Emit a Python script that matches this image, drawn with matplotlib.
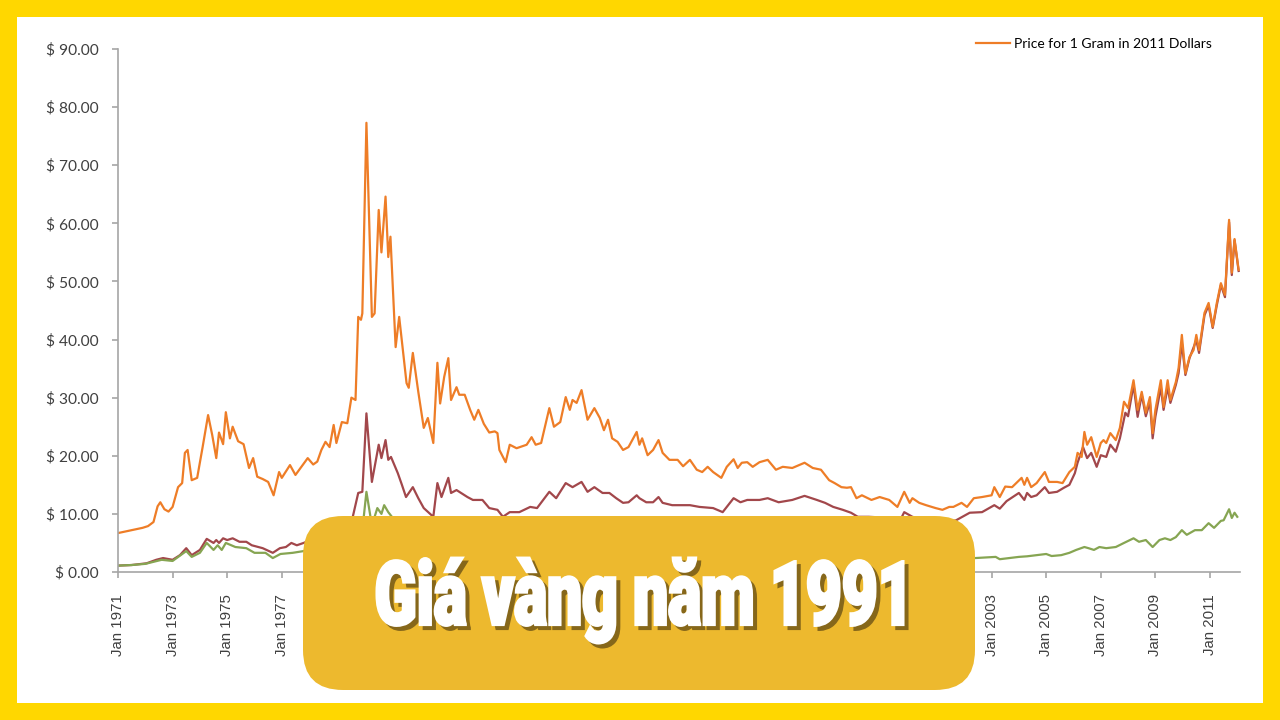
import matplotlib
matplotlib.use('Agg')  # noqa
import matplotlib.pyplot as plt
from matplotlib.ticker import FuncFormatter
from matplotlib.textpath import TextPath
from matplotlib.patches import PathPatch, FancyBboxPatch, Rectangle
from matplotlib.font_manager import FontProperties
from matplotlib.transforms import Affine2D

# gold price per gram (decimal years)
real_years = [
    1971.0, 1971.3, 1971.6, 1971.9, 1972.1, 1972.3, 1972.45, 1972.55, 1972.7, 1972.85,
    1973.0, 1973.2, 1973.35, 1973.45, 1973.55, 1973.7, 1973.9, 1974.1, 1974.3, 1974.45,
    1974.6, 1974.7, 1974.85, 1974.95, 1975.1, 1975.2, 1975.4, 1975.6, 1975.8, 1975.95,
    1976.1, 1976.3, 1976.5, 1976.7, 1976.9, 1977.0, 1977.3, 1977.5, 1977.7, 1977.95,
    1978.15, 1978.3, 1978.45, 1978.6, 1978.75, 1978.9, 1979.0, 1979.2, 1979.4, 1979.55,
    1979.7, 1979.8, 1979.9, 1979.95, 1980.1, 1980.3, 1980.4, 1980.55, 1980.65, 1980.8,
    1980.9, 1980.98, 1981.17, 1981.3, 1981.57, 1981.65, 1981.8, 1982.0, 1982.2, 1982.35,
    1982.55, 1982.7, 1982.8, 1982.95, 1983.1, 1983.2, 1983.4, 1983.5, 1983.7, 1983.9,
    1984.05, 1984.2, 1984.4, 1984.6, 1984.8, 1984.9, 1984.97, 1985.2, 1985.35, 1985.6,
    1985.97, 1986.15, 1986.3, 1986.5, 1986.8, 1986.97, 1987.2, 1987.4, 1987.55, 1987.65,
    1987.8, 1987.98, 1988.2, 1988.45, 1988.65, 1988.8, 1988.95, 1989.1, 1989.3, 1989.5,
    1989.7, 1990.0, 1990.1, 1990.2, 1990.4, 1990.6, 1990.8, 1990.95, 1991.2, 1991.5,
    1991.7, 1991.95, 1992.2, 1992.4, 1992.6, 1992.8, 1993.1, 1993.3, 1993.55, 1993.7,
    1993.85, 1994.05, 1994.25, 1994.5, 1994.8, 1995.1, 1995.35, 1995.7, 1996.15, 1996.45,
    1996.75, 1997.05, 1997.25, 1997.5, 1997.7, 1997.85, 1998.05, 1998.25, 1998.6, 1998.9,
    1999.25, 1999.55, 1999.8, 2000.0, 2000.1, 2000.35, 2000.6, 2000.95, 2001.2, 2001.45,
    2001.6, 2001.9, 2002.1, 2002.35, 2002.65, 2003.0, 2003.1, 2003.3, 2003.5, 2003.75,
    2004.1, 2004.2, 2004.3, 2004.45, 2004.65, 2004.95, 2005.1, 2005.4, 2005.6, 2005.85,
    2006.05, 2006.15, 2006.3, 2006.4, 2006.5, 2006.65, 2006.85, 2007.0, 2007.1, 2007.2,
    2007.35, 2007.55, 2007.7, 2007.85, 2008.0, 2008.2, 2008.35, 2008.5, 2008.65, 2008.8,
    2008.9, 2009.0, 2009.2, 2009.3, 2009.45, 2009.55, 2009.75, 2009.85, 2009.97, 2010.1,
    2010.25, 2010.4, 2010.5, 2010.6, 2010.8, 2010.95, 2011.1, 2011.25, 2011.4, 2011.55,
    2011.7, 2011.8, 2011.9, 2012.05]
real_price = [
    6.7, 7.0, 7.3, 7.6, 7.9, 8.6, 11.3, 12.0, 10.8, 10.4,
    11.2, 14.6, 15.3, 20.5, 21.0, 15.8, 16.2, 21.5, 27.0, 23.6,
    19.6, 24.0, 22.0, 27.5, 23.0, 25.0, 22.5, 22.0, 17.9, 19.6,
    16.4, 16.0, 15.5, 13.2, 17.2, 16.2, 18.4, 16.7, 18.0, 19.6,
    18.5, 19.0, 21.0, 22.4, 21.5, 25.3, 22.2, 25.8, 25.6, 30.0,
    29.6, 43.9, 43.4, 44.5, 77.3, 43.9, 44.5, 62.3, 55.0, 64.6,
    54.2, 57.7, 38.7, 43.9, 32.5, 31.7, 37.7, 31.0, 24.8, 26.5,
    22.2, 36.0, 29.0, 33.6, 36.8, 29.6, 31.8, 30.5, 30.5, 27.9,
    26.2, 27.9, 25.5, 24.0, 24.2, 23.9, 21.0, 18.9, 21.9, 21.3,
    21.9, 23.2, 21.9, 22.2, 28.2, 25.0, 25.8, 30.1, 27.9, 29.6,
    29.1, 31.3, 26.2, 28.2, 26.5, 24.4, 26.2, 23.0, 22.4, 21.0,
    21.5, 24.1, 21.9, 23.0, 20.1, 21.0, 22.7, 20.5, 19.3, 19.3,
    18.2, 19.3, 17.6, 17.2, 18.1, 17.2, 16.2, 18.1, 19.4, 17.9,
    18.8, 18.9, 18.1, 18.9, 19.3, 17.6, 18.1, 17.9, 18.8, 17.9,
    17.6, 15.8, 15.3, 14.6, 14.5, 14.6, 12.7, 13.2, 12.4, 12.9,
    12.4, 11.2, 13.8, 11.9, 12.7, 11.9, 11.5, 11.0, 10.7, 11.2,
    11.2, 11.9, 11.2, 12.7, 12.9, 13.2, 14.6, 12.9, 14.7, 14.6,
    16.2, 15.0, 16.2, 14.6, 15.3, 17.2, 15.5, 15.5, 15.3, 17.2,
    18.1, 20.5, 19.8, 24.1, 21.9, 23.2, 19.8, 22.2, 22.7, 22.2,
    23.9, 22.7, 24.8, 29.3, 28.2, 33.0, 27.9, 31.0, 27.4, 30.1,
    23.9, 27.9, 33.0, 28.4, 33.0, 29.6, 32.7, 35.1, 40.8, 34.2,
    37.0, 38.2, 40.8, 38.2, 44.6, 46.3, 42.2, 46.3, 49.7, 47.7,
    60.6, 51.5, 57.3, 52.0]

nominal_years = [
    1971.0, 1971.5, 1972.05, 1972.4, 1972.65, 1973.0, 1973.27, 1973.5, 1973.7, 1974.0,
    1974.25, 1974.5, 1974.6, 1974.7, 1974.85, 1975.0, 1975.2, 1975.45, 1975.7, 1975.9,
    1976.3, 1976.67, 1976.93, 1977.15, 1977.35, 1977.55, 1977.8, 1978.0, 1978.3, 1978.6,
    1978.9, 1979.1, 1979.4, 1979.6, 1979.8, 1979.95, 1980.1, 1980.3, 1980.55, 1980.65,
    1980.8, 1980.9, 1981.0, 1981.25, 1981.4, 1981.55, 1981.8, 1982.0, 1982.2, 1982.55,
    1982.7, 1982.85, 1983.1, 1983.2, 1983.4, 1983.8, 1984.0, 1984.35, 1984.6, 1984.9,
    1985.1, 1985.35, 1985.7, 1986.1, 1986.35, 1986.8, 1987.05, 1987.4, 1987.65, 1987.98,
    1988.2, 1988.45, 1988.75, 1989.0, 1989.25, 1989.5, 1989.7, 1990.0, 1990.1, 1990.35,
    1990.6, 1990.8, 1990.95, 1991.3, 1991.6, 1991.95, 1992.3, 1992.8, 1993.15, 1993.55,
    1993.8, 1994.05, 1994.5, 1994.8, 1995.2, 1995.7, 1996.15, 1996.6, 1996.9, 1997.2,
    1997.55, 1997.85, 1998.1, 1998.5, 1998.9, 1999.3, 1999.6, 1999.8, 2000.1, 2000.5,
    2001.0, 2001.3, 2001.7, 2002.2, 2002.65, 2003.1, 2003.3, 2003.55, 2004.0, 2004.2,
    2004.3, 2004.45, 2004.65, 2004.95, 2005.1, 2005.4, 2005.65, 2005.85, 2006.05, 2006.15,
    2006.35, 2006.5, 2006.65, 2006.85, 2007.0, 2007.2, 2007.35, 2007.55, 2007.7, 2007.9,
    2008.0, 2008.2, 2008.35, 2008.5, 2008.65, 2008.8, 2008.9, 2009.0, 2009.2, 2009.3,
    2009.45, 2009.55, 2009.75, 2009.85, 2009.97, 2010.1, 2010.25, 2010.5, 2010.6, 2010.8,
    2010.95, 2011.1, 2011.25, 2011.4, 2011.55, 2011.7, 2011.8, 2011.9, 2012.05]
nominal_price = [
    1.1, 1.2, 1.5, 2.1, 2.4, 2.1, 2.9, 4.1, 2.9, 3.8,
    5.7, 5.0, 5.5, 5.0, 5.8, 5.5, 5.8, 5.2, 5.2, 4.6,
    4.1, 3.3, 4.1, 4.3, 5.0, 4.6, 5.0, 5.4, 5.8, 6.5,
    6.9, 7.5, 8.5, 9.5, 13.6, 13.8, 27.3, 15.5, 21.9, 19.6,
    22.7, 19.3, 19.8, 17.0, 15.0, 12.9, 14.6, 12.7, 11.0, 9.5,
    15.3, 12.9, 16.2, 13.6, 14.1, 12.9, 12.4, 12.4, 11.0, 10.7,
    9.5, 10.3, 10.3, 11.2, 11.0, 13.8, 12.7, 15.3, 14.6, 15.5,
    13.8, 14.6, 13.6, 13.6, 12.7, 11.9, 12.0, 13.2, 12.7, 12.0,
    12.0, 12.9, 11.9, 11.5, 11.5, 11.5, 11.2, 11.0, 10.3, 12.7,
    12.0, 12.4, 12.4, 12.7, 12.0, 12.4, 13.1, 12.4, 11.9, 11.2,
    10.7, 10.2, 9.5, 9.5, 9.4, 9.2, 8.4, 10.3, 9.5, 9.0,
    8.6, 8.5, 8.9, 10.2, 10.3, 11.5, 10.9, 12.2, 13.6, 12.4,
    13.6, 12.9, 13.2, 14.6, 13.6, 13.8, 14.5, 15.0, 17.0, 18.8,
    21.5, 19.6, 20.5, 18.1, 20.1, 19.8, 21.9, 20.7, 23.0, 27.4,
    26.8, 32.2, 26.7, 30.5, 26.8, 29.3, 23.0, 26.7, 31.8, 27.9,
    31.8, 29.1, 32.2, 34.2, 39.4, 33.9, 36.8, 39.9, 37.7, 44.2,
    45.9, 42.0, 45.9, 49.4, 47.3, 60.2, 51.1, 57.1, 51.8]

base_years = [
    1971.0, 1971.5, 1972.0, 1972.6, 1973.0, 1973.5, 1973.7, 1974.0, 1974.25, 1974.5,
    1974.65, 1974.8, 1974.95, 1975.3, 1975.7, 1976.0, 1976.4, 1976.67, 1976.95, 1977.4,
    1977.8, 1978.3, 1978.9, 1979.4, 1979.8, 1979.95, 1980.1, 1980.3, 1980.5, 1980.65,
    1980.75, 1980.9, 1981.2, 1981.6, 1982.0, 1982.5, 1982.7, 1983.1, 1983.5, 1984.0,
    1984.6, 1985.1, 1985.7, 1986.3, 1986.8, 1987.4, 1987.98, 1988.5, 1989.5, 1990.0,
    1990.5, 1991.5, 1992.5, 1993.55, 1994.5, 1995.5, 1996.15, 1997.0, 1997.85, 1998.5,
    1999.6, 1999.8, 2000.5, 2001.3, 2002.0, 2002.4, 2003.15, 2003.3, 2004.0, 2004.3,
    2005.0, 2005.2, 2005.55, 2005.85, 2006.1, 2006.4, 2006.55, 2006.75, 2006.95, 2007.2,
    2007.55, 2007.85, 2008.2, 2008.4, 2008.65, 2008.9, 2009.15, 2009.35, 2009.55, 2009.75,
    2009.97, 2010.15, 2010.45, 2010.7, 2010.95, 2011.15, 2011.4, 2011.5, 2011.7, 2011.8,
    2011.9, 2012.0]
base_price = [
    1.1, 1.2, 1.4, 2.1, 1.9, 3.6, 2.6, 3.3, 5.0, 3.8,
    4.6, 3.8, 5.0, 4.3, 4.1, 3.3, 3.3, 2.4, 3.1, 3.3,
    3.6, 3.8, 4.5, 5.0, 7.0, 7.2, 13.8, 8.0, 11.0, 10.0,
    11.5, 10.3, 8.5, 6.3, 5.5, 4.2, 6.4, 6.6, 5.8, 5.0,
    4.4, 3.6, 3.9, 4.2, 5.0, 5.6, 5.6, 5.2, 4.1, 4.3,
    4.0, 3.6, 3.4, 3.8, 3.6, 3.5, 3.6, 3.2, 2.8, 2.6,
    2.3, 2.7, 2.4, 2.2, 2.3, 2.4, 2.6, 2.2, 2.6, 2.7,
    3.1, 2.75, 2.9, 3.3, 3.8, 4.3, 4.1, 3.8, 4.3, 4.1,
    4.3, 5.0, 5.8, 5.2, 5.5, 4.3, 5.5, 5.8, 5.5, 6.0,
    7.2, 6.4, 7.2, 7.2, 8.4, 7.6, 8.8, 8.9, 10.8, 9.3,
    10.2, 9.5]

tick_years = list(range(1971, 2012, 2))
tick_labels = ['Jan %d' % y for y in tick_years]
legend_label = 'Price for 1 Gram in 2011 Dollars'
title_text = 'Giá vàng năm 1991'

W, H = 1280, 720
fig = plt.figure(figsize=(W / 100, H / 100), dpi=100, facecolor='#FFD700')

# white card inside the gold frame
bg = fig.add_axes([0, 0, 1, 1], zorder=0)
bg.set_xlim(0, W)
bg.set_ylim(0, H)
bg.axis('off')
bg.add_patch(Rectangle((17, 17), W - 34, H - 34, facecolor='white', edgecolor='none'))

# chart
ax = fig.add_axes([118 / W, 148 / H, (1240 - 118) / W, (671 - 148) / H], zorder=1)
ax.patch.set_alpha(0)
ax.plot(nominal_years, nominal_price, color='#A2474B', lw=1.6)
ax.plot(base_years, base_price, color='#86A552', lw=1.6)
line, = ax.plot(real_years, real_price, color='#EE7D27', lw=1.6, label=legend_label)

ax.set_xlim(1971, 2012.1)
ax.set_ylim(0, 90)
ax.set_yticks(range(0, 91, 10))
ax.yaxis.set_major_formatter(FuncFormatter(lambda v, p: '$ %.2f' % v))
ax.set_xticks(tick_years)
ax.set_xticklabels(tick_labels, rotation=90, fontsize=10.8,
                   family='Liberation Sans', color='#404040')
for lab in ax.get_yticklabels():
    lab.set_family('Lato')
    lab.set_fontsize(11.2)
    lab.set_color('#404040')
ax.tick_params(axis='y', length=4, width=1.2, color='#A6A6A6', pad=10)
ax.tick_params(axis='x', length=4, width=1.2, color='#A6A6A6', pad=12)
ax.spines['top'].set_visible(False)
ax.spines['right'].set_visible(False)
for s in ['left', 'bottom']:
    ax.spines[s].set_color('#A6A6A6')
    ax.spines[s].set_linewidth(1.2)

ax.legend(handles=[line], loc='center right', frameon=False,
          bbox_to_anchor=(1212 / W, 1 - 44 / H), bbox_transform=fig.transFigure,
          borderaxespad=0, borderpad=0, handlelength=2.45, handletextpad=0.3,
          prop={'family': 'Lato', 'size': 10})

# overlay banner
ov = fig.add_axes([0, 0, 1, 1], zorder=2)
ov.set_xlim(0, W)
ov.set_ylim(0, H)
ov.axis('off')
ov.add_patch(FancyBboxPatch((303, H - 690), 672, 174,
                            boxstyle='round,pad=0,rounding_size=40',
                            facecolor='#EDB92E', edgecolor='none'))

fp = FontProperties(family='Roboto', weight='heavy')
tp = TextPath((0, 0), title_text, size=100, prop=fp)
ext = tp.get_extents()
x0, x1 = 377, 903
ytop, ybot = 558, 643
sx = (x1 - x0) / ext.width
sy = (ybot - ytop) / ext.height
for dx, dy, col in [(4, -4, '#86671A'), (0, 0, 'white')]:
    tr = Affine2D().translate(-ext.x0, -ext.y0).scale(sx, sy).translate(x0 + dx, H - ybot + dy)
    ov.add_patch(PathPatch(tr.transform_path(tp), facecolor=col, edgecolor=col,
                           lw=2.2, joinstyle='miter'))

plt.savefig('out.png', dpi=100)
